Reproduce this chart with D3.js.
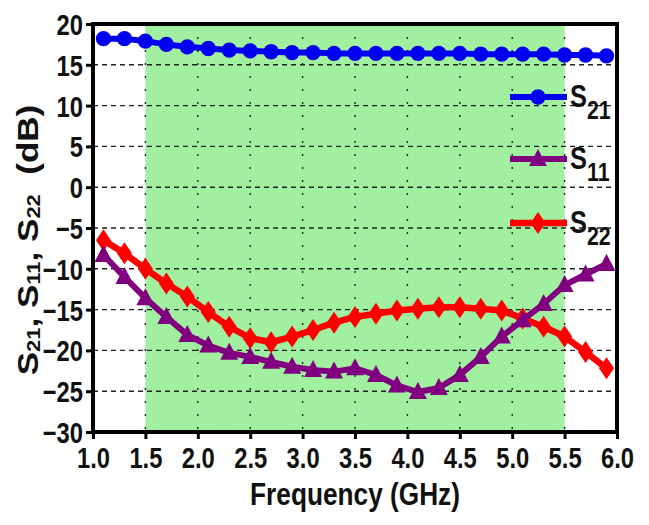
<!DOCTYPE html>
<html>
<head>
<meta charset="utf-8">
<script src="https://cdn.jsdelivr.net/npm/d3@7"></script>
<style>
  body { margin: 0; background: #fff; }
  text { font-family: "Liberation Sans", Arial, sans-serif; font-weight: bold; fill: #111; }
</style>
</head>
<body>
<script>
// frequency points (GHz)
var freq = [1.1, 1.3, 1.5, 1.7, 1.9, 2.1, 2.3, 2.5, 2.7, 2.9, 3.1, 3.3, 3.5,
            3.7, 3.9, 4.1, 4.3, 4.5, 4.7, 4.9, 5.1, 5.3, 5.5, 5.7, 5.9];
// measured S-parameters (dB)
var s21 = [18.2, 18.2, 17.9, 17.5, 17.2, 17.0, 16.8, 16.7, 16.6, 16.5, 16.5, 16.4, 16.4,
           16.4, 16.4, 16.4, 16.4, 16.4, 16.3, 16.3, 16.3, 16.3, 16.2, 16.2, 16.1];
var s11 = [-8.3, -11.0, -13.6, -15.9, -18.1, -19.4, -20.3, -20.8, -21.4, -22.0, -22.4, -22.6, -22.2,
           -23.0, -24.3, -25.1, -24.6, -23.0, -20.8, -18.3, -16.3, -14.3, -12.0, -10.7, -9.4];
var s22 = [-6.5, -8.1, -10.0, -11.8, -13.4, -15.3, -17.1, -18.5, -19.0, -18.3, -17.5, -16.6, -15.9,
           -15.5, -15.1, -14.9, -14.7, -14.7, -14.9, -15.1, -16.1, -17.1, -18.3, -20.2, -22.2];
var xTicks = [1.0, 1.5, 2.0, 2.5, 3.0, 3.5, 4.0, 4.5, 5.0, 5.5, 6.0];
var yTicks = [-30, -25, -20, -15, -10, -5, 0, 5, 10, 15, 20];
var band = [1.5, 5.5];   // shaded operating band

function main() {
    var W = 649, H = 525;
    var margin = {top: 24, right: 32, bottom: 93, left: 93},
        width = W - margin.left - margin.right,
        height = H - margin.top - margin.bottom;
    var sx = 0.82; // the picture's text is horizontally condensed

    var xScale = d3.scaleLinear().domain([1, 6]).range([0, width]);
    var yScale = d3.scaleLinear().domain([-30, 20]).range([height, 0]);

    var svg = d3.select("body").append("svg")
        .attr("width", W).attr("height", H)
        .append("g")
        .attr("transform", "translate(" + margin.left + "," + margin.top + ")");

    // green band
    svg.append("rect")
        .attr("x", xScale(band[0])).attr("y", 0)
        .attr("width", xScale(band[1]) - xScale(band[0]))
        .attr("height", height)
        .attr("fill", "#a0f0a0");

    // grid
    svg.selectAll(".hgrid").data(yTicks.slice(1, -1)).enter().append("line")
        .attr("x1", 0).attr("x2", width)
        .attr("y1", function(d) { return yScale(d); })
        .attr("y2", function(d) { return yScale(d); })
        .attr("stroke", "#222").attr("stroke-width", 1.4)
        .attr("stroke-dasharray", "5,4");
    svg.selectAll(".vgrid").data(xTicks.slice(1, -1)).enter().append("line")
        .attr("y1", 0).attr("y2", height)
        .attr("x1", function(d) { return xScale(d); })
        .attr("x2", function(d) { return xScale(d); })
        .attr("stroke", "#222").attr("stroke-width", 1.4)
        .attr("stroke-dasharray", "2,11");

    // axes
    var xAxis = svg.append("g")
        .attr("transform", "translate(0," + height + ")")
        .call(d3.axisBottom(xScale).tickValues(xTicks).tickFormat(d3.format(".1f"))
            .tickSize(7).tickPadding(8));
    var yAxis = svg.append("g")
        .call(d3.axisLeft(yScale).tickValues(yTicks).tickFormat(d3.format("d"))
            .tickSize(7).tickPadding(3));
    [xAxis, yAxis].forEach(function(ax) {
        ax.select(".domain").remove();
        ax.selectAll(".tick line").attr("stroke", "#000").attr("stroke-width", 3);
        ax.selectAll("text").attr("fill", "#111").style("font-size", "29px");
    });
    xAxis.selectAll("text")
        .attr("dy", null).attr("y", 36)
        .attr("transform", "scale(" + sx + ",1)");
    yAxis.selectAll("text")
        .attr("x", -10 / sx).attr("dy", "0.36em")
        .attr("transform", "scale(" + sx + ",1)");

    // frame
    svg.append("rect")
        .attr("x", 0).attr("y", 0).attr("width", width).attr("height", height)
        .attr("fill", "none").attr("stroke", "#000").attr("stroke-width", 4);

    // series
    var series = [
        {name: "21", values: s21, color: "#0000ee", marker: "circle", lw: 6},
        {name: "11", values: s11, color: "#800080", marker: "triangle", lw: 6},
        {name: "22", values: s22, color: "#ff0000", marker: "diamond", lw: 6.5}
    ];
    function markerPath(type) {
        if (type === "triangle") return "M0,-10L9,7L-9,7Z";
        if (type === "diamond") return "M0,-11L7.5,0L0,11L-7.5,0Z";
        return d3.symbol().type(d3.symbolCircle).size(185)();
    }
    var line = d3.line()
        .x(function(d) { return xScale(d[0]); })
        .y(function(d) { return yScale(d[1]); });

    [series[2], series[1], series[0]].forEach(function(s) {
        var pts = freq.map(function(f, i) { return [f, s.values[i]]; });
        svg.append("path").datum(pts)
            .attr("d", line).attr("fill", "none")
            .attr("stroke", s.color).attr("stroke-width", s.lw)
            .attr("stroke-linejoin", "round");
        svg.selectAll(null).data(pts).enter().append("path")
            .attr("d", markerPath(s.marker))
            .attr("transform", function(d) { return "translate(" + xScale(d[0]) + "," + yScale(d[1]) + ")"; })
            .attr("fill", s.color);
    });

    // legend
    var legY = [97, 159, 223];
    series.forEach(function(s, i) {
        var g = svg.append("g").attr("transform", "translate(" + (510 - margin.left) + "," + (legY[i] - margin.top) + ")");
        g.append("line").attr("x1", 0).attr("x2", 57).attr("y1", 0).attr("y2", 0)
            .attr("stroke", s.color).attr("stroke-width", s.lw);
        g.append("path").attr("d", markerPath(s.marker))
            .attr("transform", "translate(28,0)").attr("fill", s.color);
        var t = g.append("text").attr("transform", "translate(60,10) scale(" + sx + ",1)")
            .style("font-size", "31px").attr("fill", "#111");
        t.append("tspan").text("S");
        t.append("tspan").attr("dy", 12).style("font-size", "26px").text(s.name);
    });

    // axis titles
    svg.append("text")
        .attr("transform", "translate(" + (width / 2) + "," + (505 - margin.top) + ") scale(" + sx + ",1)")
        .attr("text-anchor", "middle")
        .style("font-size", "32px")
        .text("Frequency (GHz)");

    var yl = svg.append("text")
        .attr("transform", "translate(" + (38 - margin.left) + "," + (240 - margin.top) + ") scale(" + sx + ",1) rotate(-90)")
        .attr("text-anchor", "middle")
        .style("font-size", "35px");
    [["S", "21"], [", S", "11"], [", S", "22"]].forEach(function(p) {
        yl.append("tspan").attr("dy", p[0] === "S" ? 0 : -3).text(p[0]);
        yl.append("tspan").attr("dy", 3).style("font-size", "22px").text(p[1]);
    });
    yl.append("tspan").attr("dy", -3).text("\u00a0 (dB)");
}
main();
</script>
</body>
</html>
